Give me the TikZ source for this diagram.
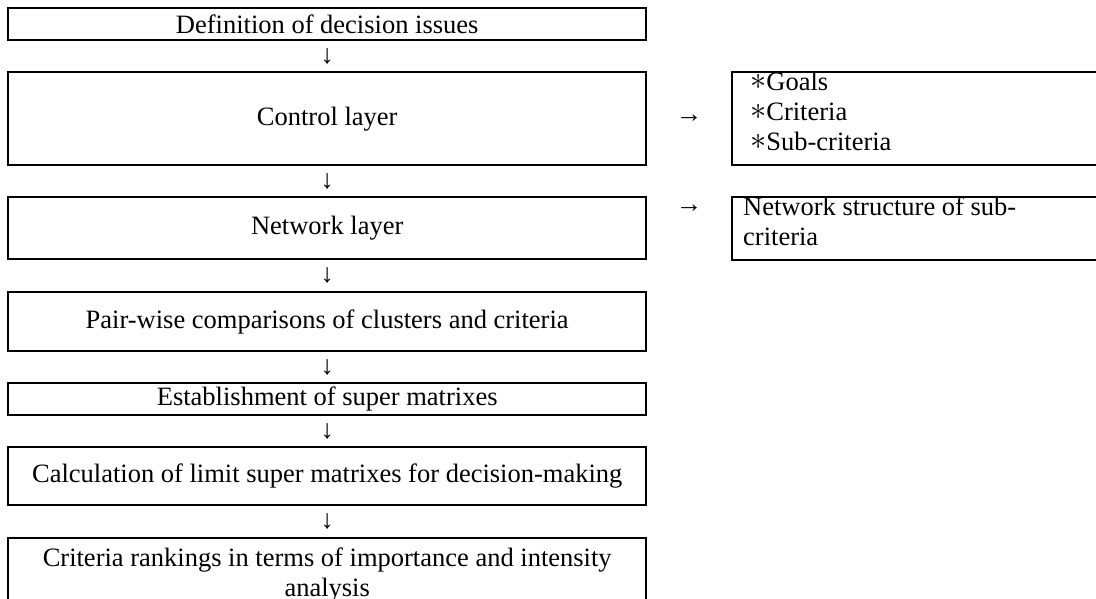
\documentclass[tikz,border=0pt]{standalone}
\usepackage{fontspec}
\setmainfont{Liberation Serif}
\usetikzlibrary{calc}
\newcommand{\bulstar}{\raisebox{1pt}{\scalebox{1.3}{$\ast$}}}
\begin{document}
\begin{tikzpicture}[x=1pt,y=-1pt,
  box/.style={draw, line width=2.4pt, inner sep=0pt, anchor=north west, align=center,
    font=\fontsize{26.5}{30}\selectfont},
  lbl/.style={inner sep=0pt, font=\fontsize{26.5}{30}\selectfont},
  sidetext/.style={inner sep=0pt, anchor=north west, align=left, font=\fontsize{26.5}{30}\selectfont}]
\useasboundingbox (0,0) rectangle (1096,599);
\clip (0,0) rectangle (1096,599);
% main column
\node[box, minimum width=638pt, minimum height=32pt] (b1) at (7,7) {Definition of decision issues};
\node[box, minimum width=638pt, minimum height=93pt] (ctrl) at (7,71) {Control layer};
\node[box, minimum width=638pt, minimum height=62pt] (net) at (7,196) {Network layer};
\node[box, minimum width=638pt, minimum height=59pt] (pair) at (7,291) {Pair-wise comparisons of clusters and criteria};
\node[box, minimum width=638pt, minimum height=32pt] (est) at (7,382) {Establishment of super matrixes};
\node[box, minimum width=638pt, minimum height=58pt] (calc) at (7,446) {Calculation of limit super matrixes for decision-making};
\node[box, minimum width=638pt, minimum height=73pt] (rank) at (7,537) {Criteria rankings in terms of importance and intensity\\analysis};
% right column
\node[box, minimum width=380pt, minimum height=93pt] (goals) at (731,71) {};
\node[sidetext] (goalstxt) at (750,72) {\bulstar Goals\\\bulstar Criteria\\\bulstar Sub-criteria};
\node[box, minimum width=380pt, minimum height=63pt] (ns) at (731,196) {};
\node[sidetext] (nstxt) at (743,197) {Network structure of sub-\\criteria};
% arrows (glyphs)
\node[lbl] (d1) at ($(b1.south)!0.5!(ctrl.north)$) {↓};
\node[lbl] (d2) at ($(ctrl.south)!0.5!(net.north)$) {↓};
\node[lbl] (d3) at ($(net.south)!0.5!(pair.north)$) {↓};
\node[lbl] (d4) at ($(pair.south)!0.5!(est.north)$) {↓};
\node[lbl] (d5) at ($(est.south)!0.5!(calc.north)$) {↓};
\node[lbl] (d6) at ($(calc.south)!0.5!(rank.north)$) {↓};
\node[lbl] (r1) at ($(ctrl.east)!0.5!(goals.west)$) {→};
\node[lbl] (r2) at ($(net.east)!0.5!(ns.west)+(0,-20)$) {→};
\end{tikzpicture}
\end{document}
